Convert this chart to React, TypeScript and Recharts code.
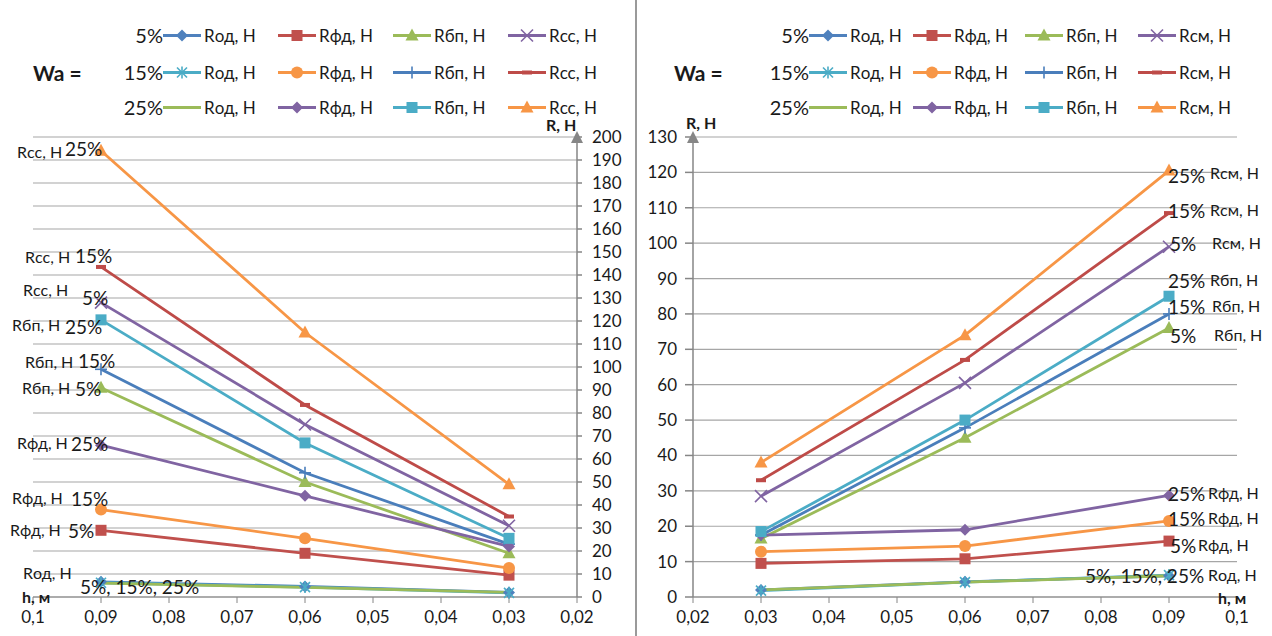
import React from "react";
import { CartesianGrid, Line, LineChart, XAxis, YAxis } from "recharts";

// h, m — the three measured depths
const H_VALUES = [0.03, 0.06, 0.09];
const X_TICKS = [0.02, 0.03, 0.04, 0.05, 0.06, 0.07, 0.08, 0.09, 0.1];
const LEFT_Y_TICKS = [0, 10, 20, 30, 40, 50, 60, 70, 80, 90, 100, 110, 120, 130, 140, 150, 160, 170, 180, 190, 200];
const RIGHT_Y_TICKS = [0, 10, 20, 30, 40, 50, 60, 70, 80, 90, 100, 110, 120, 130];

// left panel (Rсс), values at h = 0.03 / 0.06 / 0.09
const leftOd5 = [2, 4.6, 6.6];
const leftOd15 = [1.8, 4.3, 6.2];
const leftOd25 = [2, 4.2, 6];
const leftFd5 = [9.5, 19, 29];
const leftFd15 = [12.6, 25.5, 38];
const leftFd25 = [22, 44, 66];
const leftBp5 = [19, 50, 91];
const leftBp15 = [23, 54, 99];
const leftBp25 = [25.5, 67, 120.5];
const leftSs5 = [31, 75, 128];
const leftSs15 = [35, 83.5, 143.5];
const leftSs25 = [49, 115, 194];

// right panel (Rсм)
const rightOd5 = [2, 4.3, 6];
const rightOd15 = [1.8, 4.2, 6.2];
const rightOd25 = [2, 4.2, 6];
const rightFd5 = [9.5, 10.8, 15.8];
const rightFd15 = [12.8, 14.4, 21.5];
const rightFd25 = [17.5, 19, 28.7];
const rightBp5 = [16.5, 45, 76];
const rightBp15 = [17.5, 47.8, 80];
const rightBp25 = [18.5, 50, 85];
const rightSm5 = [28.5, 60.5, 99];
const rightSm15 = [33, 67, 108.5];
const rightSm25 = [38, 74, 120.5];

const FONT = "Lato, 'Open Sans', sans-serif";
const TEXT = "#1a1a1a";
const GRID = "#a6a6a6";
const AXIS = "#868686";

type Shape = "diamond" | "square" | "triangle" | "x" | "asterisk" | "circle" | "plus" | "dash" | "none";

interface SeriesStyle {
  key: string;
  color: string;
  shape: Shape;
}

// Excel-2007 order: 5% row, 15% row, 25% row; columns од, фд, бп, сс/см
const SERIES: SeriesStyle[] = [
  { key: "od5", color: "#4F81BD", shape: "diamond" },
  { key: "fd5", color: "#C0504D", shape: "square" },
  { key: "bp5", color: "#9BBB59", shape: "triangle" },
  { key: "ss5", color: "#8064A2", shape: "x" },
  { key: "od15", color: "#4BACC6", shape: "asterisk" },
  { key: "fd15", color: "#F79646", shape: "circle" },
  { key: "bp15", color: "#4A7EBB", shape: "plus" },
  { key: "ss15", color: "#BE4B48", shape: "dash" },
  { key: "od25", color: "#9BBB59", shape: "none" },
  { key: "fd25", color: "#8064A2", shape: "diamond" },
  { key: "bp25", color: "#4BACC6", shape: "square" },
  { key: "ss25", color: "#F79646", shape: "triangle" },
];

const leftRows = H_VALUES.map((h, i) => ({
  h,
  od5: leftOd5[i], fd5: leftFd5[i], bp5: leftBp5[i], ss5: leftSs5[i],
  od15: leftOd15[i], fd15: leftFd15[i], bp15: leftBp15[i], ss15: leftSs15[i],
  od25: leftOd25[i], fd25: leftFd25[i], bp25: leftBp25[i], ss25: leftSs25[i],
}));

const rightRows = H_VALUES.map((h, i) => ({
  h,
  od5: rightOd5[i], fd5: rightFd5[i], bp5: rightBp5[i], ss5: rightSm5[i],
  od15: rightOd15[i], fd15: rightFd15[i], bp15: rightBp15[i], ss15: rightSm15[i],
  od25: rightOd25[i], fd25: rightFd25[i], bp25: rightBp25[i], ss25: rightSm25[i],
}));

function Marker({ cx, cy, shape, color }: { cx: number; cy: number; shape: Shape; color: string }) {
  if (cx == null || cy == null) return null;
  switch (shape) {
    case "diamond":
      return <polygon points={`${cx},${cy - 6} ${cx + 6},${cy} ${cx},${cy + 6} ${cx - 6},${cy}`} fill={color} />;
    case "square":
      return <rect x={cx - 5.5} y={cy - 5.5} width={11} height={11} fill={color} />;
    case "triangle":
      return <polygon points={`${cx},${cy - 7} ${cx + 6.5},${cy + 5} ${cx - 6.5},${cy + 5}`} fill={color} />;
    case "circle":
      return <circle cx={cx} cy={cy} r={6} fill={color} />;
    case "x":
      return (
        <g stroke={color} strokeWidth={1.6}>
          <line x1={cx - 6} y1={cy - 6} x2={cx + 6} y2={cy + 6} />
          <line x1={cx - 6} y1={cy + 6} x2={cx + 6} y2={cy - 6} />
        </g>
      );
    case "asterisk":
      return (
        <g stroke={color} strokeWidth={1.6}>
          <line x1={cx - 5} y1={cy - 5} x2={cx + 5} y2={cy + 5} />
          <line x1={cx - 5} y1={cy + 5} x2={cx + 5} y2={cy - 5} />
          <line x1={cx} y1={cy - 6} x2={cx} y2={cy + 6} />
        </g>
      );
    case "plus":
      return (
        <g stroke={color} strokeWidth={1.6}>
          <line x1={cx - 6} y1={cy} x2={cx + 6} y2={cy} />
          <line x1={cx} y1={cy - 6} x2={cx} y2={cy + 6} />
        </g>
      );
    case "dash":
      return <rect x={cx - 5} y={cy - 2} width={10} height={4} fill={color} />;
    default:
      return null;
  }
}

const makeDot = (s: SeriesStyle) =>
  s.shape === "none"
    ? false
    : (p: any) => <Marker key={`${s.key}-${p.index}`} cx={p.cx} cy={p.cy} shape={s.shape} color={s.color} />;

const fmtH = (v: number) => String(+Number(v).toFixed(2)).replace(".", ",");

function Panel({ rows, reversed, yTicks, yMax }: { rows: any[]; reversed: boolean; yTicks: number[]; yMax: number }) {
  const tickStyle = { fontSize: 17, fill: TEXT, fontFamily: FONT };
  return (
    <LineChart
      width={636}
      height={636}
      data={rows}
      margin={reversed ? { top: 137, right: 9, bottom: 9, left: 33 } : { top: 137, right: 35, bottom: 9, left: 12 }}
    >
      <CartesianGrid horizontal vertical={false} stroke={GRID} strokeWidth={1.2} />
      <XAxis
        type="number"
        dataKey="h"
        domain={[0.02, 0.1]}
        ticks={X_TICKS}
        reversed={reversed}
        allowDataOverflow
        tickFormatter={fmtH}
        tick={tickStyle}
        stroke={AXIS}
        tickSize={6}
        tickMargin={8}
        height={30}
        interval={0}
      />
      <YAxis
        orientation={reversed ? "right" : "left"}
        domain={[0, yMax]}
        ticks={yTicks}
        interval={0}
        tick={{ ...tickStyle, textAnchor: reversed ? "start" : "end" }}
        stroke={AXIS}
        strokeWidth={1.5}
        tickSize={reversed ? 5 : 8}
        tickMargin={reversed ? 10 : 8}
        width={reversed ? 50 : 45}
      />
      {SERIES.map((s) => (
        <Line
          key={s.key}
          type="linear"
          dataKey={s.key}
          stroke={s.color}
          strokeWidth={2.8}
          dot={makeDot(s)}
          activeDot={false}
          isAnimationActive={false}
        />
      ))}
    </LineChart>
  );
}

function Swatch({ s }: { s: SeriesStyle }) {
  return (
    <svg width={38} height={16} style={{ display: "block" }}>
      <line x1={0} y1={8} x2={38} y2={8} stroke={s.color} strokeWidth={3} />
      <Marker cx={19} cy={8} shape={s.shape} color={s.color} />
    </svg>
  );
}

const PCT_ROWS = ["5%", "15%", "25%"];
const LEFT_NAMES = ["Rод, Н", "Rфд, Н", "Rбп, Н", "Rсс, Н"];
const RIGHT_NAMES = ["Rод, Н", "Rфд, Н", "Rбп, Н", "Rсм, Н"];
const ROW_Y = [35, 72, 107];

function LegendBlock({ names, cols, waX }: { names: string[]; cols: number[]; waX: number }) {
  const items: React.ReactNode[] = [];
  PCT_ROWS.forEach((pct, r) => {
    items.push(
      <div key={`p${r}`} style={{ position: "absolute", right: 1272 - cols[0], top: ROW_Y[r], transform: "translateY(-50%)", fontSize: 20, lineHeight: 1 }}>
        {pct}
      </div>
    );
    names.forEach((name, c) => {
      const s = SERIES[r * 4 + c];
      items.push(
        <div key={`i${r}-${c}`} style={{ position: "absolute", left: cols[c], top: ROW_Y[r], transform: "translateY(-50%)", display: "flex", alignItems: "center", gap: 3 }}>
          <Swatch s={s} />
          <span style={{ fontSize: 17, lineHeight: 1 }}>{name}</span>
        </div>
      );
    });
  });
  return (
    <>
      <div style={{ position: "absolute", left: waX, top: 72, transform: "translateY(-50%)", fontSize: 21, fontWeight: 700, lineHeight: 1 }}>
        Wa =
      </div>
      {items}
    </>
  );
}

// text annotations: [text, left, centerY, fontSize]
const LEFT_NOTES: [string, number, number, number][] = [
  ["Rсс, Н", 17, 152, 16], ["25%", 65, 148, 19],
  ["Rсс, Н", 25, 257, 16], ["15%", 75, 255, 19],
  ["Rсс, Н", 23, 290, 16], ["5%", 82, 297, 19],
  ["Rбп, Н", 12, 325, 16], ["25%", 65, 326, 19],
  ["Rбп, Н", 25, 362, 16], ["15%", 78, 360, 19],
  ["Rбп, Н", 22, 388, 16], ["5%", 75, 388, 19],
  ["Rфд, Н", 17, 443, 16], ["25%", 71, 443, 19],
  ["Rфд, Н", 12, 498, 16], ["15%", 71, 498, 19],
  ["Rфд, Н", 10, 530, 16], ["5%", 68, 530, 19],
  ["Rод, Н", 23, 573, 16], ["5%, 15%, 25%", 80, 586, 19],
];

const RIGHT_NOTES: [string, number, number, number][] = [
  ["25%", 1168, 175, 19], ["Rсм, Н", 1210, 173, 16],
  ["15%", 1168, 210, 19], ["Rсм, Н", 1210, 210, 16],
  ["5%", 1170, 243, 19], ["Rсм, Н", 1212, 243, 16],
  ["25%", 1168, 280, 19], ["Rбп, Н", 1210, 280, 16],
  ["15%", 1168, 306, 19], ["Rбп, Н", 1212, 306, 16],
  ["5%", 1170, 335, 19], ["Rбп, Н", 1214, 335, 16],
  ["25%", 1168, 493, 19], ["Rфд, Н", 1208, 493, 16],
  ["15%", 1168, 518, 19], ["Rфд, Н", 1208, 518, 16],
  ["5%", 1170, 545, 19], ["Rфд, Н", 1198, 545, 16],
  ["5%, 15%, 25%", 1085, 575, 19], ["Rод, Н", 1208, 575, 16],
];

function Notes({ notes }: { notes: [string, number, number, number][] }) {
  return (
    <>
      {notes.map(([t, x, y, fs], i) => (
        <div key={i} style={{ position: "absolute", left: x, top: y, transform: "translateY(-50%)", fontSize: fs, lineHeight: 1, whiteSpace: "nowrap" }}>
          {t}
        </div>
      ))}
    </>
  );
}

function AxisArrow({ x }: { x: number }) {
  return (
    <svg width={12} height={12} style={{ position: "absolute", left: x - 6, top: 131 }}>
      <polygon points="6,0 12,12 0,12" fill={AXIS} />
    </svg>
  );
}

export default function App() {
  const bold = { position: "absolute" as const, fontSize: 16, fontWeight: 700, lineHeight: 1, whiteSpace: "nowrap" as const };
  return (
    <div style={{ position: "absolute", left: 0, top: 0, width: 1272, height: 636, background: "#fff", overflow: "hidden", fontFamily: FONT, color: TEXT }}>
      <div style={{ position: "absolute", left: 0, top: 0 }}>
        <Panel rows={leftRows} reversed yTicks={LEFT_Y_TICKS} yMax={200} />
      </div>
      <div style={{ position: "absolute", left: 636, top: 0 }}>
        <Panel rows={rightRows} reversed={false} yTicks={RIGHT_Y_TICKS} yMax={130} />
      </div>
      <div style={{ position: "absolute", left: 635, top: 0, width: 1.5, height: 636, background: "#9a9a9a" }} />

      <LegendBlock names={LEFT_NAMES} cols={[163, 278, 393, 508]} waX={33} />
      <LegendBlock names={RIGHT_NAMES} cols={[809, 913, 1025, 1138]} waX={674} />

      <AxisArrow x={577} />
      <AxisArrow x={693} />
      <div style={{ ...bold, left: 546, top: 117 }}>R, Н</div>
      <div style={{ ...bold, left: 686, top: 115 }}>R, Н</div>
      <div style={{ ...bold, left: 22, top: 589 }}>h, м</div>
      <div style={{ ...bold, left: 1218, top: 590 }}>h, м</div>

      <Notes notes={LEFT_NOTES} />
      <Notes notes={RIGHT_NOTES} />
    </div>
  );
}
